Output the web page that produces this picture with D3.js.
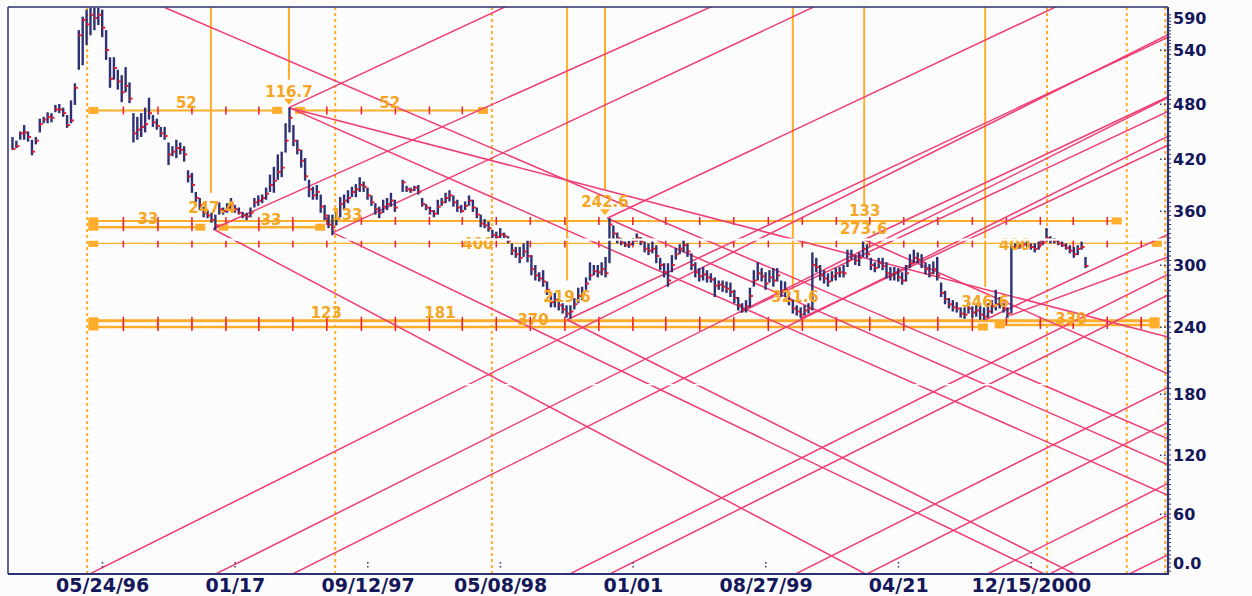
<!DOCTYPE html>
<html><head><meta charset="utf-8">
<script src="https://cdn.jsdelivr.net/npm/d3@7"></script>
<style>body{margin:0;background:#fcfcfd}svg{display:block}</style>
</head><body><svg id="c" width="1252" height="596"></svg>
<script>
// ---------------- data ----------------
const firstBar = "1995-12-15"; // weekly bars
const hi = [444,440,450,457,450,441,444,464,466,471,470,479,480,476,468,484,503,571,592,603,
606,606,606,603,571,532,532,518,512,521,504,470,466,470,476,487,468,464,455,455,
438,434,441,438,434,407,404,382,375,365,361,358,356,370,364,369,375,367,364,359,
358,364,375,378,379,387,402,411,425,428,459,476,457,441,430,421,396,388,390,379,
367,356,356,359,376,379,384,388,391,399,394,387,378,369,365,373,375,381,373,null,
396,389,387,389,390,375,368,365,361,373,375,381,384,378,373,367,371,378,373,364,
356,351,348,339,337,341,336,332,324,320,320,324,328,311,300,293,295,284,273,273,
268,263,261,261,268,278,279,288,303,300,300,303,309,352,344,336,330,326,327,330,
335,331,326,324,326,322,308,302,302,311,319,323,328,324,313,303,297,298,295,292,
288,285,285,284,283,276,269,263,266,278,295,303,297,293,295,297,297,285,284,274,
266,261,259,261,263,314,308,300,295,292,294,297,298,300,317,317,311,314,326,323,
308,303,308,308,303,298,298,297,293,300,312,317,314,312,303,301,304,309,283,275,
268,266,264,259,259,263,260,261,261,259,263,266,276,269,263,259,324,324,324,326,
326,324,324,326,328,341,332,330,328,326,324,322,320,322,326,309];
const lo = [430,432,441,441,439,424,436,449,459,459,460,471,470,466,454,459,479,518,523,548,
563,571,579,560,529,498,507,496,482,493,481,438,441,444,449,463,455,452,444,441,
413,423,421,425,417,393,381,370,361,353,352,347,339,356,356,358,361,358,356,352,
350,353,364,366,369,373,382,381,396,399,427,449,434,425,410,395,376,373,373,358,
350,341,333,344,353,361,369,376,376,382,382,373,366,356,352,358,361,365,359,null,
382,382,381,383,379,365,361,356,353,356,366,369,371,365,359,358,361,366,359,352,
342,341,337,330,328,330,330,324,311,308,302,309,303,290,285,284,279,271,259,259,
256,253,249,248,257,263,266,276,285,290,288,290,288,302,328,324,322,320,319,322,
326,322,314,311,313,302,295,288,279,293,306,312,314,309,295,288,284,285,283,283,
269,276,274,273,269,263,256,254,254,259,279,285,284,276,283,279,284,269,269,261,
253,251,249,251,253,256,293,285,282,279,284,285,288,288,298,306,300,299,309,308,
295,293,297,295,287,285,285,284,281,284,297,302,302,297,291,288,291,285,269,262,
258,255,254,249,248,253,249,250,247,247,249,253,256,258,254,249,253,317,318,320,
320,317,314,317,322,326,324,324,322,320,317,313,308,311,317,297];
const cl = [431,434,448,449,444,428,440,458,463,466,465,474,474,470,457,462,498,563,587,580,
595,590,595,575,540,508,520,505,493,500,486,448,452,455,458,470,460,456,448,445,
425,428,432,430,425,400,390,375,367,358,355,350,344,362,360,364,368,362,358,355,
354,358,370,372,375,380,390,395,405,410,440,465,440,430,418,400,385,378,382,365,
355,345,342,352,368,372,375,382,385,390,388,378,370,362,358,365,368,372,364,null,
393,385,384,387,382,368,364,360,357,365,370,375,378,370,364,360,366,372,364,356,
346,344,341,333,331,334,332,327,316,312,308,315,310,296,290,287,284,276,264,266,
261,257,253,255,262,270,273,282,290,294,293,296,292,345,335,330,325,322,323,327,
330,326,318,316,318,310,300,293,285,300,312,318,322,315,300,293,289,291,288,286,
280,281,279,277,274,268,261,257,260,270,285,292,289,282,288,285,290,275,276,266,
258,255,252,256,258,300,298,290,287,284,289,292,293,292,305,310,305,308,318,312,
300,297,302,299,292,290,292,288,285,292,302,308,306,303,296,292,296,290,273,267,
262,259,258,253,252,258,254,256,252,250,255,260,262,263,258,253,320,320,321,323,
322,320,318,322,325,330,328,327,324,322,319,316,312,318,320,299];

const yTickValues = [0,60,120,180,240,300,360,420,480,540,590];
const yTickLabels = ["0.0","60","120","180","240","300","360","420","480","540","590"];
const xTickDates  = ["1996-05-24","1997-01-17","1997-09-12","1998-05-08","1999-01-01","1999-08-27","2000-04-21","2000-12-15"];
const xTickLabels = ["05/24/96","01/17","09/12/97","05/08/98","01/01","08/27/99","04/21","12/15/2000"];
const xDomain = ["1995-12-07","2001-08-18"];

// time cycle verticals
const solidCycles = [["1996-12-05",381],["1997-04-24",507],["1998-09-05",285],["1998-11-12",384],
  ["1999-10-15",276],["2000-02-20",365],["2000-09-24",279]];
const dottedCycles = ["1996-04-27","1997-07-16","1998-04-23","2001-01-13","2001-06-05","2001-08-13"];

// Gann angle lines: [date1, price1, date2, price2]
const gannLines = [
  // from zero at cycle dates
  ["1996-04-27",-15,"2001-08-18",564],
  ["1996-12-09",-15,"2001-08-18",487],
  ["1997-04-26",-15,"2001-08-18",445],
  ["1998-09-05",-15,"2001-08-18",291],
  ["1998-11-16",-15,"2001-08-18",271],
  ["1999-10-15",-15,"2001-08-18",186],
  ["2000-02-20",-15,"2001-08-18",152],
  ["2000-09-24",-15,"2001-08-18",91],
  ["2001-01-13",-15,"2001-08-18",59],
  ["2001-06-05",-15,"2001-08-18",10],
  // rising from pivots
  ["1996-12-09",340,"2001-08-18",926],
  ["1997-04-24",476,"2001-08-18",1090],
  ["1997-07-12",336,"2001-08-18",867],
  ["1998-09-05",247,"2001-08-18",560],
  ["1998-11-16",352,"2001-08-18",690],
  ["1999-07-12",254,"2001-08-18",472],
  ["1999-10-28",248,"2001-08-18",435],
  ["2000-02-20",328,"2001-08-18",488],
  ["2000-09-24",247,"2001-08-18",334],
  ["2000-11-07",251,"2001-08-18",309],
  // falling from pivots
  ["1996-09-14",606,"2001-08-18",136],
  ["1997-04-24",476,"2001-08-18",79],
  ["1997-04-24",476,"2001-08-18",231],
  ["1998-11-16",352,"2001-08-18",110],
  ["2000-02-20",328,"2001-08-18",198],
  ["1996-12-09",340,"2000-02-27",-15],
  ["1998-09-05",247,"2001-03-08",-15],
  ["1997-07-12",336,"2001-01-13",-15]
];

// horizontal levels: [date1, date2, price, weight]
const levels = [
  ["1996-05-08","1997-04-03",473,2],["1997-05-14","1998-04-07",473,2],
  ["1996-05-08","2001-05-18",349,2],
  ["1996-05-08","1996-11-16",342,2.5],["1996-12-27","1997-06-19",342,2.5],
  ["1996-05-08","2001-07-29",324,1.3],
  ["1996-05-08","2001-07-25",246,3],["2000-10-20","2001-07-25",242,2.5],
  ["1996-05-08","2000-09-20",240,2.5]
];
const levelLabels = [
  ["52","1996-10-22",476],["52","1997-10-22",476],["116.7","1997-04-24",488],
  ["33","1996-08-14",346],["33","1997-03-23",345],["247.4","1996-12-07",358],
  ["133","1997-08-06",350],["400","1998-03-29",318],["123","1997-06-30",249],
  ["181","1998-01-20",249],["370","1998-07-06",242],["219.6","1998-09-05",264],
  ["242.6","1998-11-12",365],["133","2000-02-21",355],["273.6","2000-02-19",334],
  ["321.6","1999-10-19",264],["346.6","2000-09-24",259],["400","2000-11-16",317],
  ["330","2001-02-25",243]
];
const pivotMarks = [["1997-04-24",476],["1998-11-12",352]];

// ---------------- drawing ----------------
const P = d3.timeParse("%Y-%m-%d");
const L = 8, R = 1168, T = 7, B = 574;
const svg = d3.select("#c");
const x = d3.scaleTime().domain(xDomain.map(P)).range([L, R]);
const y = d3.scaleLinear().domain(yTickValues)
  .range([563,514,455,394,327,265,211,159,104,50,18]);

const PINK = "#ef3d72", ORANGE = "#ffad2a", NAVY = "#2e3274", RED = "#ee1c2a";

svg.append("rect").attr("width",1252).attr("height",596).attr("fill","#fcfcfd");
svg.append("defs").append("clipPath").attr("id","pc")
  .append("rect").attr("x",L).attr("y",T).attr("width",R-L).attr("height",B-T);
const g = svg.append("g").attr("clip-path","url(#pc)");

// dotted cycles
g.selectAll(".dc").data(dottedCycles).join("line")
  .attr("x1",d=>x(P(d))).attr("x2",d=>x(P(d))).attr("y1",T).attr("y2",B)
  .attr("stroke",ORANGE).attr("stroke-width",2).attr("stroke-dasharray","3,3");
// solid cycles
g.selectAll(".sc").data(solidCycles).join("line")
  .attr("x1",d=>x(P(d[0]))).attr("x2",d=>x(P(d[0]))).attr("y1",T).attr("y2",d=>y(d[1]))
  .attr("stroke",ORANGE).attr("stroke-width",2);

// levels
g.selectAll(".lv").data(levels).join("line")
  .attr("x1",d=>x(P(d[0]))).attr("x2",d=>x(P(d[1]))).attr("y1",d=>y(d[2])).attr("y2",d=>y(d[2]))
  .attr("stroke",ORANGE).attr("stroke-width",d=>d[3]);
levels.forEach(d=>{
  const a=P(d[0]), b=P(d[1]);
  [a,b].forEach(t=>g.append("rect").attr("x",x(t)-5).attr("y",y(d[2])-3.5)
     .attr("width",10).attr("height",7).attr("fill",ORANGE));
  d3.timeMonth.every(2).range(d3.timeDay.offset(a,20),d3.timeDay.offset(b,-10)).forEach(t=>
    g.append("line").attr("x1",x(t)).attr("x2",x(t)).attr("y1",y(d[2])-4).attr("y2",y(d[2])+4)
     .attr("stroke",RED).attr("stroke-width",1.5));
});

// gann lines
g.selectAll(".gl").data(gannLines).join("line")
  .attr("x1",d=>x(P(d[0]))).attr("y1",d=>y(d[1])).attr("x2",d=>x(P(d[2]))).attr("y2",d=>y(d[3]))
  .attr("stroke",PINK).attr("stroke-width",1.5);

// bars
const bars = hi.map((h,i)=>({t:d3.timeDay.offset(P(firstBar),7*i),h,l:lo[i],c:cl[i]})).filter(d=>d.h!=null);
g.selectAll(".bar").data(bars).join("line")
  .attr("x1",d=>x(d.t)).attr("x2",d=>x(d.t)).attr("y1",d=>y(d.h)).attr("y2",d=>y(d.l))
  .attr("stroke",NAVY).attr("stroke-width",2.4);
g.selectAll(".cl").data(bars).join("line")
  .attr("x1",d=>x(d.t)).attr("x2",d=>x(d.t)+3).attr("y1",d=>y(d.c)).attr("y2",d=>y(d.c))
  .attr("stroke",RED).attr("stroke-width",2);

// pivot marks
pivotMarks.forEach(d=>{
  const px=x(P(d[0])), py=y(d[1]);
  g.append("path").attr("d",`M${px-5},${py-9}h10l-5,6z`).attr("fill",ORANGE);
});

// labels
g.selectAll(".lb").data(levelLabels).join("text")
  .attr("x",d=>x(P(d[1]))).attr("y",d=>y(d[2])).attr("text-anchor","middle")
  .attr("font-family","DejaVu Sans, Verdana, sans-serif").attr("font-weight","bold")
  .attr("font-size",15).attr("fill","#f5a623").text(d=>d[0]);

// scan artifacts
svg.append("rect").attr("x",0).attr("y",238.5).attr("width",1252).attr("height",2.2).attr("fill","#ffffff");
svg.append("rect").attr("x",0).attr("y",384).attr("width",1252).attr("height",1.4).attr("fill","#ffffff");

// frame
svg.append("line").attr("x1",L).attr("x2",R).attr("y1",T).attr("y2",T).attr("stroke",NAVY).attr("stroke-width",1.5);
svg.append("line").attr("x1",L).attr("x2",L).attr("y1",T).attr("y2",B).attr("stroke",NAVY).attr("stroke-width",1.5);

// right axis
const ya = d3.axisRight(y).tickValues(yTickValues).tickFormat((d,i)=>yTickLabels[i]).tickSize(0).tickPadding(5);
const yg = svg.append("g").attr("transform",`translate(${R},0)`).call(ya);
yg.select(".domain").attr("d",`M0,${T}V${B+1}`).attr("stroke",NAVY).attr("stroke-width",2.2);
yg.selectAll("text").attr("font-family","DejaVu Sans, Verdana, sans-serif").attr("font-weight","bold")
  .attr("font-size",16).attr("fill","#14185a");
d3.range(-10,600,5).forEach(v=>{
  const py=y(v); if(py<T||py>B) return;
  yg.append("line").attr("x1",1).attr("x2",3).attr("y1",py).attr("y2",py).attr("stroke",NAVY).attr("stroke-width",1);
});
yTickValues.slice(1,10).forEach(v=>{
  [-8,-4].forEach(dx=>svg.append("rect").attr("x",R+dx).attr("y",y(v)-0.5).attr("width",1.5).attr("height",1.5).attr("fill",NAVY));
});

// bottom axis
const xa = d3.axisBottom(x).tickValues(xTickDates.map(P)).tickFormat((d,i)=>xTickLabels[i]).tickSize(0).tickPadding(4);
const xg = svg.append("g").attr("transform",`translate(0,${B})`).call(xa);
xg.select(".domain").attr("d",`M${L},0H${R+1}`).attr("stroke",NAVY).attr("stroke-width",2.2);
xg.selectAll("text").attr("font-family","DejaVu Sans, Verdana, sans-serif").attr("font-weight","bold")
  .attr("font-size",19).attr("fill","#14185a");
xTickDates.forEach(d=>{
  [-12,-8].forEach(dy=>svg.append("rect").attr("x",x(P(d))-0.5).attr("y",B+dy).attr("width",1.5).attr("height",1.5).attr("fill",NAVY));
});
</script></body></html>
